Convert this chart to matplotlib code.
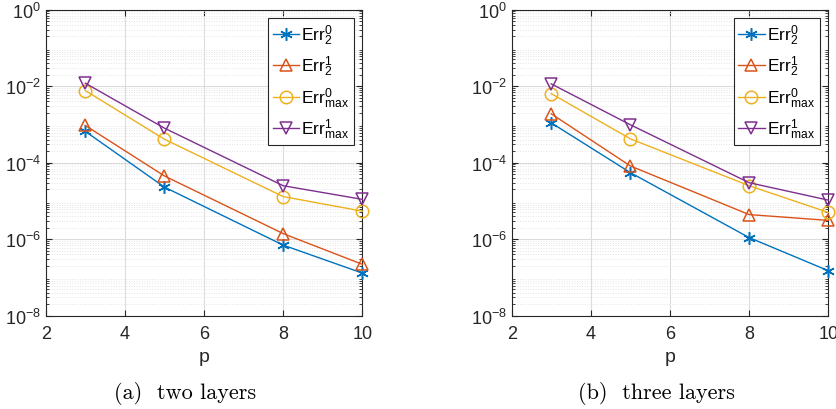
import matplotlib
matplotlib.use("Agg")
import matplotlib.pyplot as plt
from matplotlib.ticker import LogLocator, NullFormatter

plt.rcParams['font.family'] = ['Liberation Sans', 'DejaVu Sans']
plt.rcParams['mathtext.default'] = 'regular'

p = [3, 5, 8, 10]

# two layers
err2_0_a = [6.6e-4, 2.3e-5, 7.0e-7, 1.3e-7]
err2_1_a = [9.4e-4, 4.5e-5, 1.4e-6, 2.2e-7]
errmax_0_a = [7.7e-3, 4.1e-4, 1.3e-5, 5.4e-6]
errmax_1_a = [1.2e-2, 8.0e-4, 2.5e-5, 1.1e-5]

# three layers
err2_0_b = [1.1e-3, 5.5e-5, 1.1e-6, 1.5e-7]
err2_1_b = [1.9e-3, 8.2e-5, 4.4e-6, 3.1e-6]
errmax_0_b = [6.4e-3, 4.2e-4, 2.5e-5, 5.0e-6]
errmax_1_b = [1.15e-2, 9.8e-4, 3.0e-5, 1.05e-5]

labels = [r'$Err_2^0$', r'$Err_2^1$', r'$Err_{max}^0$', r'$Err_{max}^1$']
colors = ['#0072BD', '#D95319', '#EDB120', '#7E2F8E']
markers = [(6, 2, 0), '^', 'o', 'v']
captions = ['(a)  two layers', '(b)  three layers']
caption_x = [185.5 / 837, 656 / 837]
yticks = [1e-8, 1e-6, 1e-4, 1e-2, 1e0]
ytick_labels = [r'$10^{-8}$', r'$10^{-6}$', r'$10^{-4}$', r'$10^{-2}$', r'$10^{0}$']
xticks = [2, 4, 6, 8, 10]

fig = plt.figure(figsize=(8.37, 4.10), dpi=100)
ax_a = fig.add_axes([0.0546, 0.2276, 0.3783, 0.7463])
ax_b = fig.add_axes([0.6113, 0.2276, 0.3783, 0.7463])

datasets = [
    (ax_a, [err2_0_a, err2_1_a, errmax_0_a, errmax_1_a]),
    (ax_b, [err2_0_b, err2_1_b, errmax_0_b, errmax_1_b]),
]

axcol = '#262626'
for i, (ax, series) in enumerate(datasets):
    for vals, lab, c, m in zip(series, labels, colors, markers):
        ax.plot(p, vals, color=c, marker=m, markersize=9, markerfacecolor='none',
                markeredgewidth=1.1, linewidth=1.0, label=lab, clip_on=False, zorder=3)
    ax.set_yscale('log')
    ax.set_xlim(2, 10)
    ax.set_ylim(1e-8, 1)
    ax.set_xticks(xticks)
    ax.set_xticklabels([str(t) for t in xticks])
    ax.set_yticks(yticks)
    ax.set_yticklabels(ytick_labels)
    ax.yaxis.set_minor_locator(LogLocator(base=10, subs=range(2, 10), numticks=20))
    ax.yaxis.set_minor_formatter(NullFormatter())
    ax.tick_params(which='both', direction='in', top=True, right=True, colors=axcol,
                   labelsize=13, labelcolor=axcol)
    ax.tick_params(which='major', length=4)
    ax.tick_params(axis='x', which='major', pad=7)
    ax.tick_params(which='minor', length=2)
    ax.grid(True, which='major', color='#dcdcdc', linewidth=0.8)
    ax.grid(True, which='minor', axis='y', color='#e4e4e4', linestyle=':', linewidth=0.7)
    ax.set_axisbelow(True)
    for s in ax.spines.values():
        s.set_color(axcol)
        s.set_linewidth(0.8)
    ax.set_xlabel('p', fontsize=14, color=axcol, labelpad=4)
    leg = ax.legend(loc='upper right', fontsize=12.5, fancybox=False, framealpha=1,
                    edgecolor='#262626', handlelength=1.5, handletextpad=0.15,
                    borderpad=0.25, labelspacing=0.4, borderaxespad=0.5)
    leg.get_frame().set_linewidth(0.8)
    fig.text(caption_x[i], 0.04, captions[i], ha='center', va='center',
             fontsize=16, family=['cmr10', 'DejaVu Serif'])

fig.savefig('out.png', dpi=100)
